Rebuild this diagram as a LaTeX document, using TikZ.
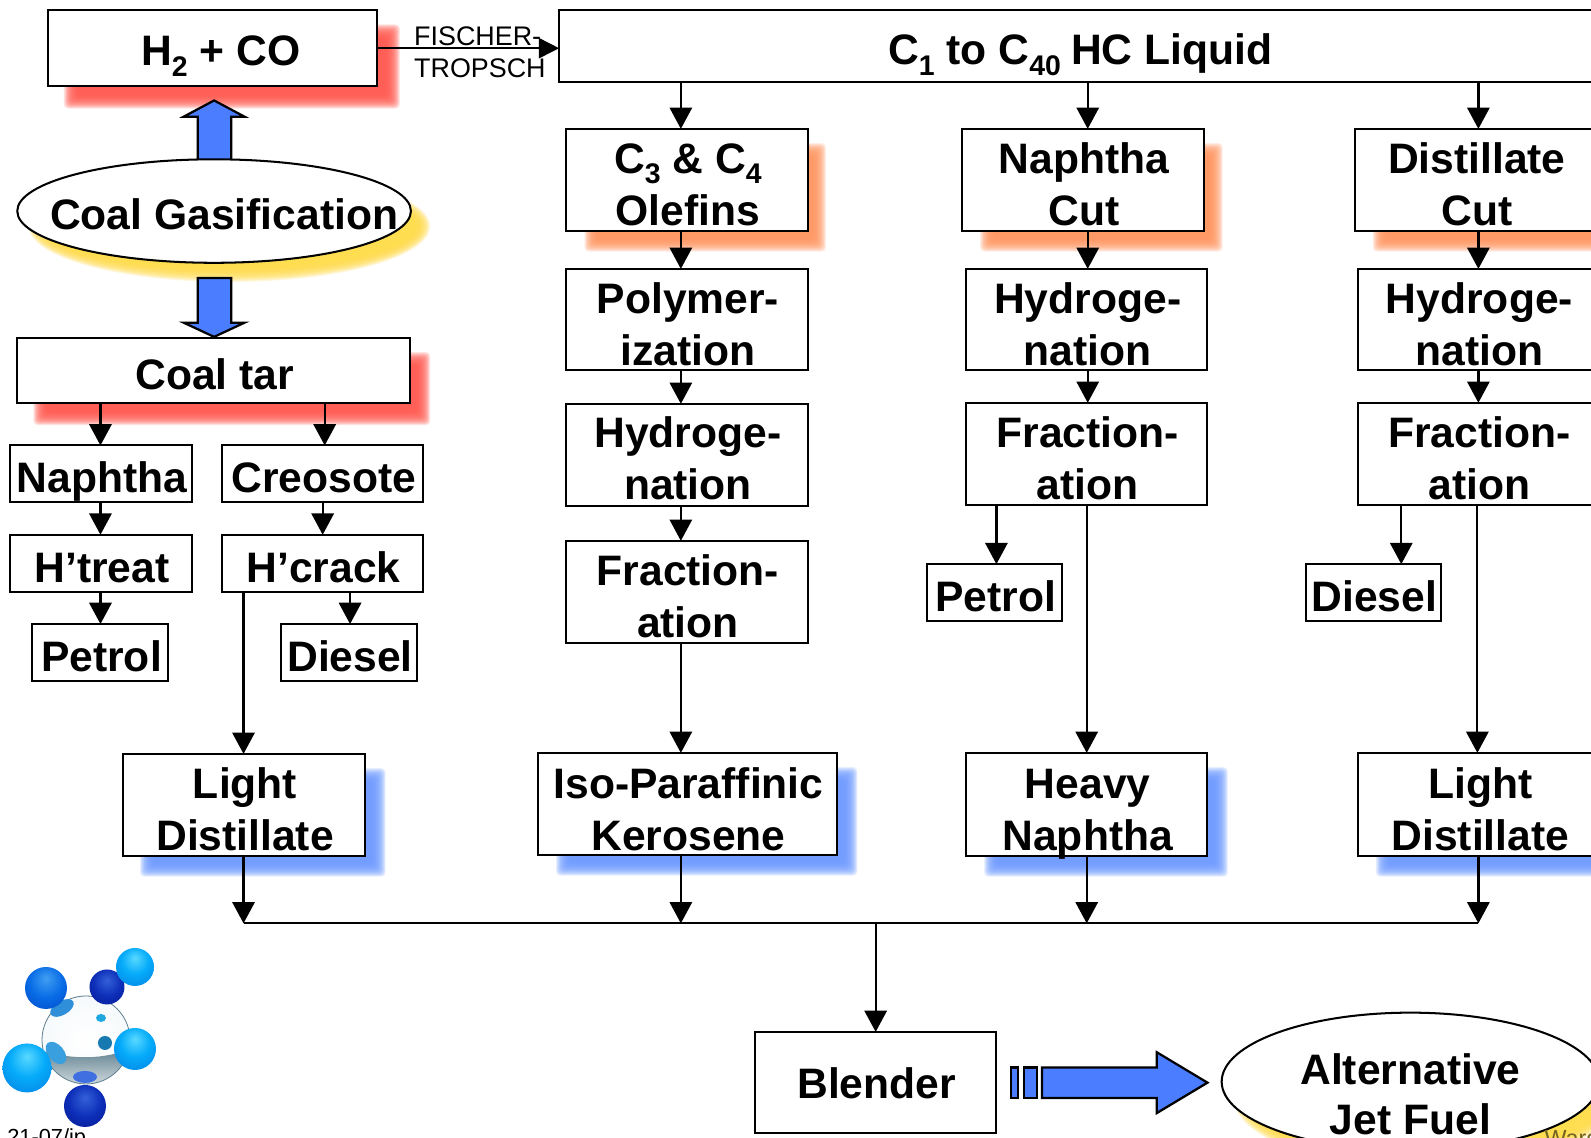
\documentclass[tikz,border=0pt]{standalone}
\usepackage{fontspec}
\setmainfont{Liberation Sans}
\usetikzlibrary{arrows.meta,shapes.geometric,calc}
\definecolor{flowblue}{HTML}{4A7DFF}
\definecolor{shred}{HTML}{FF5A50}
\definecolor{shorange}{HTML}{FF9660}
\definecolor{shblue}{HTML}{6E9BFF}
\definecolor{shyellow}{HTML}{FFDD4A}
\definecolor{dimA}{HTML}{2F8FD8}
\definecolor{dimB}{HTML}{1FA8E0}
\definecolor{dimC}{HTML}{1878B0}
\definecolor{dimD}{HTML}{3A9FDF}
\definecolor{dimE}{HTML}{3F6FE0}
\definecolor{bandtop}{HTML}{5E7F8F}
\definecolor{bandmid}{HTML}{9AB0BC}
\definecolor{bandlow}{HTML}{D5DDE0}
\pgfdeclareradialshading{sphcyan}{\pgfpoint{0bp}{12bp}}{rgb(0bp)=(0.35,0.85,1);rgb(18bp)=(0.02,0.67,0.98);rgb(42bp)=(0.02,0.48,0.88);rgb(62bp)=(0.10,0.30,0.80)}
\pgfdeclareradialshading{sphblue}{\pgfpoint{0bp}{12bp}}{rgb(0bp)=(0.25,0.62,0.95);rgb(20bp)=(0.03,0.42,0.90);rgb(45bp)=(0.02,0.25,0.75);rgb(62bp)=(0.05,0.15,0.60)}
\pgfdeclareradialshading{sphnavy}{\pgfpoint{0bp}{10bp}}{rgb(0bp)=(0.20,0.38,0.85);rgb(20bp)=(0.05,0.18,0.72);rgb(45bp)=(0.02,0.08,0.52);rgb(62bp)=(0.02,0.05,0.35)}
\pgfdeclareradialshading{sphglass}{\pgfpoint{0bp}{0bp}}{rgb(0bp)=(1,1,1);rgb(36bp)=(0.95,0.97,0.98);rgb(50bp)=(0.72,0.78,0.82)}
\tikzset{
  flowline/.style={draw=black,line width=2.2pt,-{Triangle[length=21pt,width=22pt]}},
  plainline/.style={draw=black,line width=2.2pt},
  thinflow/.style={draw=black,line width=1.6pt,-{Triangle[length=20pt,width=20pt]}},
  boxnode/.style={draw=black,line width=2pt,fill=white,rectangle,inner sep=0pt,outer sep=0pt},
  ovalnode/.style={draw=black,line width=2pt,fill=white,ellipse,inner sep=0pt,outer sep=0pt},
  blockarrow/.style={draw=black,line width=2.2pt,fill=flowblue,line join=miter},
  dimple/.style={fill=#1,draw=none},
}
% text with first baseline at absolute y
\newcommand{\txt}[3]{% centre y, first baseline y, text
  \pgfmathsetmacro{\dropv}{#2-(#1)}%
  \raisebox{-\dropv pt}[0pt][0pt]{\fontsize{42}{51}\selectfont\bfseries\begin{tabular}[t]{@{\hspace{2pt}}c@{}}#3\end{tabular}}}
\newcommand{\bx}[7][]{%
  \bxinner{#1}{#2}{#3}{#4}{#5}{#6}{#7}}
\newcommand{\bxinner}[8]{%
  \pgfmathsetmacro{\cxv}{(#3+#5)/2}\pgfmathsetmacro{\cyv}{(#4+#6)/2}%
  \pgfmathsetmacro{\wv}{#5-#3}\pgfmathsetmacro{\hv}{#6-#4}%
  \node[boxnode,#1,minimum width=\wv pt,minimum height=\hv pt] (#2) at (\cxv,\cyv) {\txt{\cyv}{#7}{#8}};}
\newcommand{\softrect}[5]{% colour x1 y1 x2 y2
  \foreach \b in {4,3.2,2.4,1.6,0.8,0,-0.8,-1.6,-2.4,-3.2,-4,-4.8,-5.6,-6.4,-7.2,-8,-8.8,-9.6}{
    \fill[#1,opacity=0.15,rounded corners=4pt] (#2-\b,#3-\b) rectangle (#4+\b,#5+\b);}
}
\newcommand{\softoval}[5]{% colour cx cy rx ry
  \foreach \b in {4,3.2,2.4,1.6,0.8,0,-0.8,-1.6,-2.4,-3.2,-4,-4.8,-5.6,-6.4,-7.2,-8,-8.8,-9.6}{
    \fill[#1,opacity=0.15] (#2,#3) ellipse [x radius=#4+\b,y radius=#5+\b];}
}
\newcommand{\sbs}[1]{\raisebox{-0.24em}{\fontsize{28}{28}\selectfont #1}}
\begin{document}
\begin{tikzpicture}[x=1pt,y=-1pt]
\useasboundingbox (0,0) rectangle (1568,1121.5);
\clip (0,0) rectangle (1568,1121.5);
\fill[white] (0,0) rectangle (1568,1121.5);

% guide positions of the connectors
\coordinate (xA) at (671,0);
\coordinate (xB) at (1072,0);
\coordinate (xC) at (1457,0);
\coordinate (xD) at (240,0);
\coordinate (xE) at (863,0);
\coordinate (yBus) at (0,910);

% soft shadows
\softrect{shred}{67}{28}{390}{103}
\softrect{shred}{37}{351}{420}{415}
\softoval{shyellow}{226}{223}{194}{51}
\softrect{shorange}{580}{145}{810}{244}
\softrect{shorange}{970}{145}{1201}{244}
\softrect{shorange}{1357}{145}{1600}{244}
\softrect{shblue}{142}{761}{376}{860}
\softrect{shblue}{552}{760}{841}{859}
\softrect{shblue}{974}{760}{1206}{860}
\softrect{shblue}{1360}{760}{1600}{860}
\softoval{shyellow}{1405}{1081}{186}{68}

% block arrows of the gasifier
\draw[blockarrow] (195,160) -- (195,115) -- (181,115) -- (211,99) -- (241,115) -- (228,115) -- (228,160) -- cycle;
\draw[blockarrow] (195,274) -- (195,318) -- (181,318) -- (211,332) -- (241,318) -- (228,318) -- (228,274) -- cycle;

% nodes
\bx{h2co}{47}{10}{372}{85}{65}{\kern14pt H\sbs{2} + CO}
\bx{c1}{551}{10}{1640}{81}{64}{\makebox[0pt]{\kern-0pt}}
\node[inner sep=0pt,anchor=base] (c1t) at (1064.5,64) {\fontsize{42}{50}\selectfont\bfseries C\sbs{1} to C\sbs{40}\kern10pt HC Liquid};

\pgfmathsetmacro{\gasdrop}{226-208}
\node[ovalnode,minimum width=388pt,minimum height=102pt] (gas) at (211,208)
  {\makebox[0pt]{\kern20pt\raisebox{-\gasdrop pt}[0pt][0pt]{\fontsize{42}{50}\selectfont\bfseries Coal Gasification}}};

\bx{tar}{17}{333}{404}{397}{384}{Coal tar}
\bx{lnaph}{10}{439}{189}{495}{485}{Naphtha}
\bx{creo}{219}{439}{417}{495}{485}{Creosote}
\bx{htreat}{10}{527}{189}{583}{574}{H’treat}
\bx{hcrack}{219}{527}{417}{583}{574}{H’crack}
\bx{lpet}{32}{615}{166}{671}{662}{Petrol}
\bx{ldies}{277}{615}{411}{671}{662}{Diesel}
\bx{ld1}{121}{743}{360}{844}{787}{Light\\Distillate}

\bx{olef}{558}{127}{796}{228}{171}{C\sbs{3} \& C\sbs{4}\\Olefins}
\bx{poly}{558}{265}{796}{365}{309}{Polymer-\\ization}
\bx{hyda}{558}{398}{796}{499}{441}{Hydroge-\\nation}
\bx{fraa}{558}{533}{796}{634}{577}{Fraction-\\ation}
\bx{iso}{530}{742}{825}{843}{787}{Iso-Paraffinic\\Kerosene}

\bx{ncut}{948}{127}{1187}{228}{171}{Naphtha\\Cut}
\bx{hydb}{952}{265}{1190}{365}{309}{Hydroge-\\nation}
\bx{frab}{952}{397}{1190}{498}{441}{Fraction-\\ation}
\bx{petb}{914}{556}{1047}{612}{603}{Petrol}
\bx{heavy}{952}{742}{1190}{844}{787}{Heavy\\Naphtha}

\bx{dcut}{1335}{127}{1574}{228}{171}{Distillate\\Cut}
\bx{hydc}{1338}{265}{1576}{365}{309}{Hydroge-\\nation}
\bx{frac}{1338}{397}{1576}{498}{441}{Fraction-\\ation}
\bx{diec}{1287}{556}{1420}{612}{603}{Diesel}
\bx{ld2}{1338}{742}{1578}{844}{787}{Light\\Distillate}

\bx{blend}{744}{1017}{982}{1117}{1083}{Blender}
\pgfmathsetmacro{\jetdrop}{1069-1066}
\node[ovalnode,minimum width=372pt,minimum height=136pt] (jet) at (1390,1066)
  {\raisebox{-\jetdrop pt}[0pt][0pt]{\fontsize{42}{49}\selectfont\bfseries\begin{tabular}[t]{@{}c@{}}Alternative\\Jet Fuel\end{tabular}}};

% Fischer-Tropsch
\draw[thinflow] (h2co.east) -- (c1.west |- h2co.east);
\node[anchor=base west,inner sep=0pt] (ft1) at (408,45) {\fontsize{26.5}{30}\selectfont FISCHER-};
\node[anchor=base west,inner sep=0pt] (ft2) at (408,76) {\fontsize{26.5}{30}\selectfont TROPSCH};

% connectors, left column
\coordinate (xF) at (99,0); \coordinate (xG) at (320,0); \coordinate (xH) at (318,0); \coordinate (xI) at (345,0);
\draw[flowline] (tar.south -| xF) -- (lnaph.north -| xF);
\draw[flowline] (tar.south -| xG) -- (creo.north -| xG);
\draw[flowline] (lnaph.south -| xF) -- (htreat.north -| xF);
\draw[flowline] (creo.south -| xH) -- (hcrack.north -| xH);
\draw[flowline] (htreat.south -| xF) -- (lpet.north -| xF);
\draw[flowline] (hcrack.south -| xI) -- (ldies.north -| xI);
\draw[flowline] (hcrack.south -| xD) -- (ld1.north -| xD);

% column A
\draw[flowline] (c1.south -| xA) -- (olef.north -| xA);
\draw[flowline] (olef.south -| xA) -- (poly.north -| xA);
\draw[flowline] (poly.south -| xA) -- (hyda.north -| xA);
\draw[flowline] (hyda.south -| xA) -- (fraa.north -| xA);
\draw[flowline] (fraa.south -| xA) -- (iso.north -| xA);

% column B
\coordinate (xJ) at (982,0); \coordinate (xK) at (1071,0);
\draw[flowline] (c1.south -| xB) -- (ncut.north -| xB);
\draw[flowline] (ncut.south -| xB) -- (hydb.north -| xB);
\draw[flowline] (hydb.south -| xB) -- (frab.north -| xB);
\draw[flowline] (frab.south -| xJ) -- (petb.north -| xJ);
\draw[flowline] (frab.south -| xK) -- (heavy.north -| xK);

% column C
\coordinate (xL) at (1381,0); \coordinate (xM) at (1456,0);
\draw[flowline] (c1.south -| xC) -- (dcut.north -| xC);
\draw[flowline] (dcut.south -| xC) -- (hydc.north -| xC);
\draw[flowline] (hydc.south -| xC) -- (frac.north -| xC);
\draw[flowline] (frac.south -| xL) -- (diec.north -| xL);
\draw[flowline] (frac.south -| xM) -- (ld2.north -| xM);

% collector
\draw[flowline] (ld1.south -| xD) -- (yBus -| xD);
\draw[flowline] (iso.south -| xA) -- (yBus -| xA);
\draw[flowline] (heavy.south -| xK) -- (yBus -| xK);
\draw[flowline] (ld2.south -| xC) -- (yBus -| xC);
\draw[plainline] (yBus -| xD) -- (yBus -| xC);
\draw[flowline] (yBus -| xE) -- (blend.north -| xE);

% output arrow
\draw[blockarrow] (996,1052) rectangle (1003,1082);
\draw[blockarrow] (1009,1052) rectangle (1022,1082);
\draw[blockarrow] (1027,1052) -- (1140,1052) -- (1140,1037) -- (1190,1067) -- (1140,1097) -- (1140,1082) -- (1027,1082) -- cycle;

% molecule
\begin{scope}[scale=0.9855]
  \shade[shading=sphglass] (86,1040) circle (44);
  \begin{scope}
    \clip (86,1040) circle (44);
    \shade[top color=bandtop,middle color=bandmid,bottom color=bandlow] (40,1050) .. controls (70,1060) and (105,1060) .. (132,1048) -- (132,1086) -- (40,1086) -- cycle;
  \end{scope}
  \draw[bandtop,line width=0.8pt] (86,1040) circle (44);
  \fill[dimple=dimA,rotate around={30:(62,1008)}] (62,1008) ellipse (13 and 7);
  \fill[dimple=dimB] (101,1018) ellipse (5 and 4);
  \fill[dimple=dimC] (105,1043) ellipse (7 and 7);
  \fill[dimple=dimD,rotate around={-50:(56,1053)}] (56,1053) ellipse (13 and 8);
  \fill[dimple=dimE] (85,1077) ellipse (12 and 6);
  \shade[shading=sphnavy] (107,987) circle (17.5);
  \shade[shading=sphcyan] (135,967) circle (19);
  \shade[shading=sphblue] (46,988) circle (21);
  \shade[shading=sphcyan] (135,1049) circle (21);
  \shade[shading=sphcyan] (27,1068) circle (24.5);
  \shade[shading=sphnavy] (85,1106) circle (21);
\end{scope}

\node[anchor=base west,inner sep=0pt] (code) at (7,1128) {\fontsize{21.5}{25}\selectfont 21-07/jp};
\node[anchor=base west,inner sep=0pt,text=black!55!shyellow] (ward) at (1522,1130) {\fontsize{23}{25}\selectfont Ward};
\end{tikzpicture}
\end{document}
